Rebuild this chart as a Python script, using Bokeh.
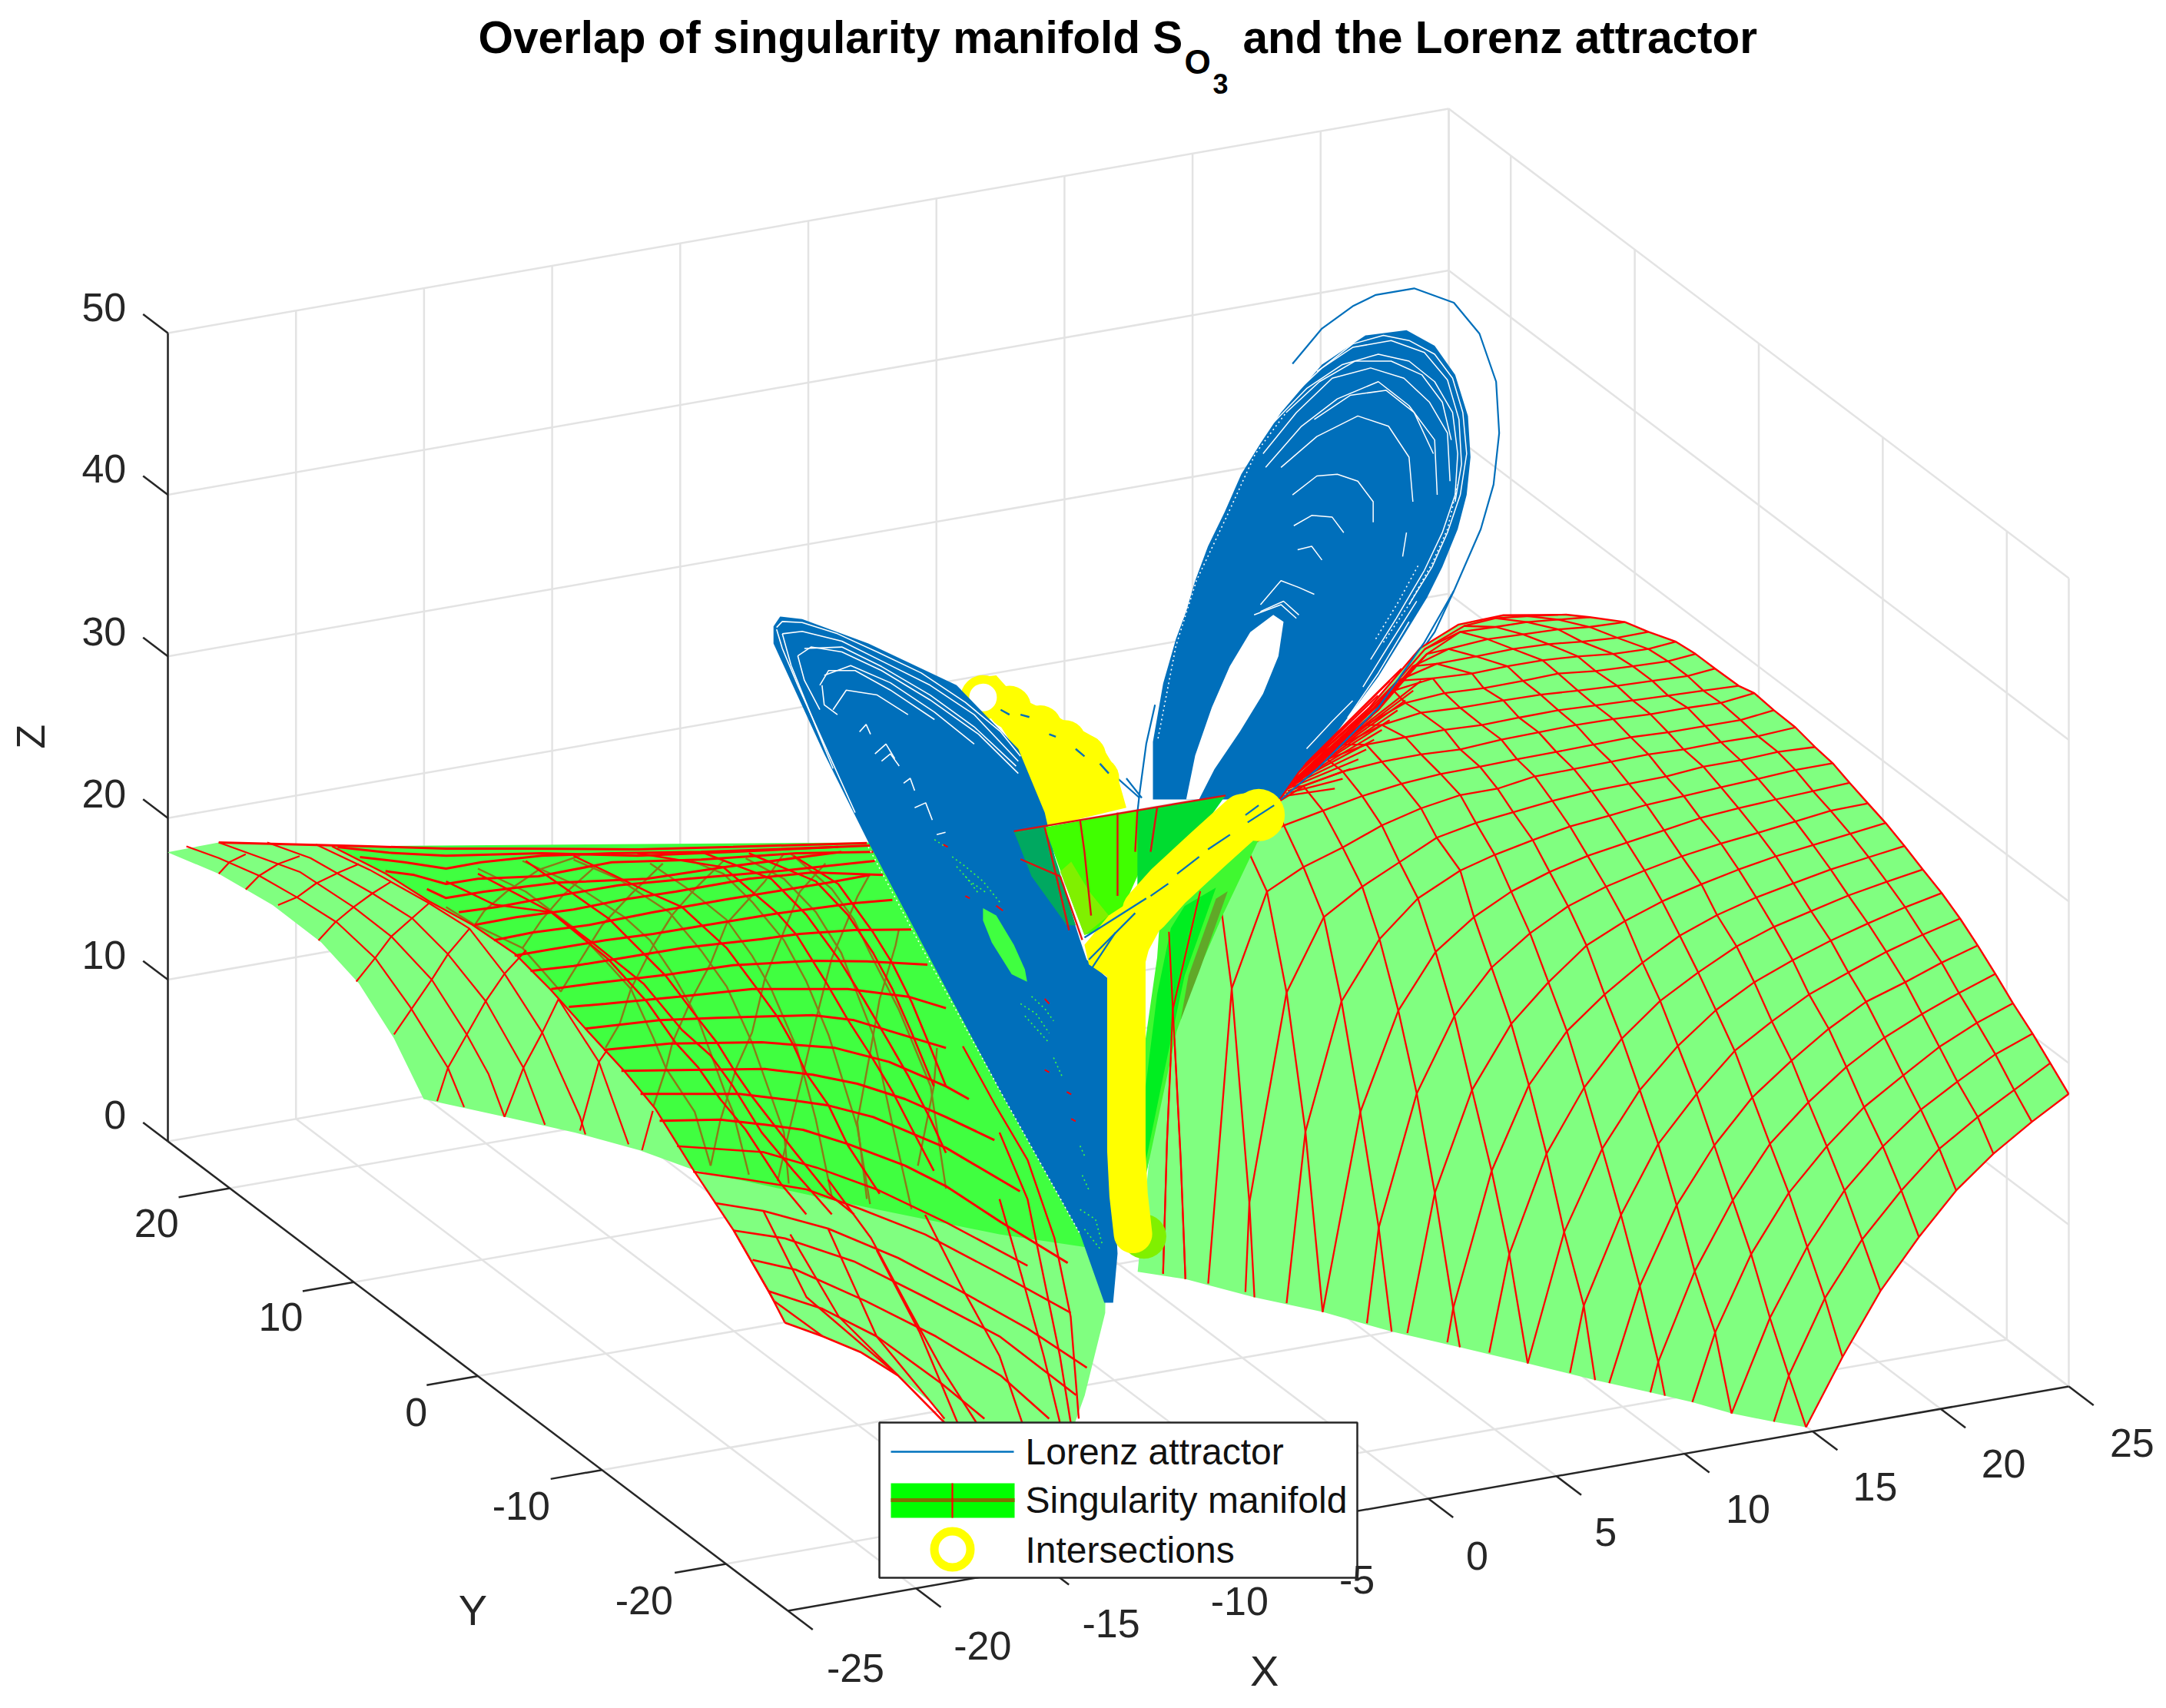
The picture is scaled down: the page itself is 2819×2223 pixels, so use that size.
from bokeh.plotting import figure
from bokeh.models import Range1d
from bokeh.core.properties import value
from bokeh.embed import file_html
from bokeh.resources import INLINE

TITLE_MAIN = "Overlap of singularity manifold S"
TITLE_SUB = "O"
TITLE_SUBSUB = "3"
TITLE_END = "and the Lorenz attractor"
X_TICKS = [-25, -20, -15, -10, -5, 0, 5, 10, 15, 20, 25]
Y_TICKS = [-20, -10, 0, 10, 20]
Z_TICKS = [0, 10, 20, 30, 40, 50]
LEGEND_LABELS = ["Lorenz attractor", "Singularity manifold", "Intersections"]
FONT = value("Liberation Sans")

# ---- values, each group in the frame of one crop of it
RIGHT_TABLE = [
 [(1552,993),(1458,1050),(1360,1115),(1265,1190),(1170,1285),(1072,1395),(975,1530),(882,1673)],
 [(1505,930),(1413,985),(1320,1040),(1222,1105),(1125,1190),(1025,1290),(930,1410),(838,1568)],
 [(1460,870),(1365,912),(1268,968),(1175,1025),(1078,1100),(980,1190),(885,1305),(790,1450)],
 [(1410,808),(1318,848),(1222,897),(1130,955),(1030,1020),(935,1100),(838,1195),(742,1320),(650,1480)],
 [(1365,748),(1272,787),(1178,830),(1082,878),(985,938),(888,1010),(790,1095),(695,1210),(598,1355),(505,1540)],
 [(1320,690),(1228,725),(1135,765),(1035,805),(940,860),(845,925),(745,1000),(648,1098),(552,1220),(458,1385)],
 [(1275,635),(1180,668),(1087,703),(990,745),(890,790),(795,845),(700,905),(603,993),(505,1095),(410,1240),(315,1425)],
 [(1228,583),(1135,612),(1040,645),(945,680),(848,720),(750,765),(652,822),(555,895),(458,985),(362,1105),(265,1275)],
 [(1180,535),(1088,560),(990,588),(895,620),(800,652),(705,692),(607,745),(510,803),(412,880),(316,980),(220,1115),(125,1320)],
 [(1133,487),(1042,510),(945,535),(850,563),(755,592),(655,628),(560,670),(465,725),(368,790),(272,865),(175,975),(80,1150),(-18,1430)],
 [(1085,440),(995,462),(900,485),(805,508),(710,535),(615,565),(515,600),(420,640),(322,690),(225,765),(130,850),(30,985),(-65,1195)],
 [(1040,400),(945,415),(855,437),(760,460),(665,482),(565,508),(470,537),(372,570),(275,610),(178,665),(80,735),(-15,834),(-111,992),(-208,1266)],
 [(993,358),(900,375),(805,392),(710,410),(612,430),(520,455),(425,480),(325,507),(228,540),(130,580),(35,632),(-63,703),(-158,823),(-255,1030)],
 [(950,318),(855,332),(760,350),(665,367),(570,385),(475,403),(380,425),(280,447),(185,475),(88,505),(0,537),(-108,594),(-206,677),(-303,804),(-395,1070)],
 [(905,285),(810,295),(715,312),(620,325),(525,345),(430,360),(335,375),(235,395),(135,418),(40,440),(-60,470),(-155,520),(-250,570),(-348,632),(-443,786),(-538,1215)],
 [(855,245),(760,263),(665,275),(570,290),(480,300),(385,315),(290,330),(190,345),(95,370),(0,383),(-100,410),(-200,445),(-300,490),(-400,530),(-493,580),(-583,778)],
 [(800,210),(715,230),(625,242),(530,255),(435,265),(340,280),(245,295),(145,310),(50,325),(-50,340),(-150,360),(-250,385),(-350,415),(-450,445),(-545,490),(-618,564),(-680,650)],
 [(750,175),(665,195),(580,205),(485,218),(390,228),(295,240),(200,255),(105,270),(0,290),(-100,300),(-200,315),(-300,335),(-400,365),(-470,400)],
 [(710,160),(620,170),(530,180),(440,190),(345,200),(250,210),(150,225),(55,240),(-40,250),(-140,265),(-240,280),(-340,310),(-430,365)],
 [(650,125),(580,140),(490,150),(400,160),(300,170),(205,178),(110,190),(0,205),(-100,215),(-200,240),(-300,280),(-420,350)],
 [(600,95),(530,110),(440,120),(345,130),(250,135),(160,150),(60,165),(-40,175),(-140,195),(-240,240),(-340,290),(-415,345)],
 [(550,70),(480,85),(390,95),(300,100),(210,108),(120,120),(30,135),(-70,145),(-170,170),(-290,260),(-405,340)],
 [(480,50),(400,62),(310,70),(225,75),(135,85),(40,100),(-60,115),(-160,150),(-270,240),(-395,335)],
 [(420,30),(330,40),(250,45),(160,55),(70,65),(-30,85),(-120,120),(-230,225),(-385,330)],
 [(330,20),(250,25),(170,30),(90,40),(0,50),(-85,95),(-210,210),(-375,325)],
 [(250,15),(170,18),(90,22),(10,38),(-90,85),(-220,205),(-380,320)],
]
# where a row runs on to the lower edge past its last crossing
RIGHT_ROW_TAILS = {1:[(800,1662)],2:[(692,1645)],3:[(592,1622)],4:[(485,1602)],5:[(380,1583)],6:[(280,1562)],7:[(172,1543)],8:[(74,1521)],9:[(-33,1500)],10:[(-135,1481)],11:[(-238,1461)],12:[(-351,1438)],13:[(-443,1420)],14:[(-548,1397)],15:[(-608,1030),(-643,1380)],16:[(-733,820),(-748,1090),(-758,1360)]}
RIGHT_COL_TAILS = {8:[(692,1645)],9:[(522,1609)],10:[(344,1577)],11:[(172,1543)],12:[(-1,1510)],13:[(-175,1478)],14:[(-351,1438)],15:[(-525,1408)],16:[(-733,819),(-713,1127),(-701,1371)]}
RIGHT_LOWER_EDGE = [(882,1673),(800,1662),(692,1645),(592,1622),(485,1602),(344,1577),(172,1543),(-1,1510),(-175,1478),(-351,1438),(-525,1408),(-701,1371),(-823,1356),(-790,1100),(-750,800),(-670,666),(-590,535),(-460,392)]
RIGHT_TOP_EDGE = [(-460,392),(-412,337),(-231,204),(-102,83),(-4,35),(110,16),(270,15),(330,20),(420,30),(480,50),(550,70),(600,95),(650,125),(710,160),(750,175),(800,210),(855,245),(905,285),(950,318),(993,358),(1040,400),(1085,440),(1133,487),(1180,535),(1228,583),(1275,635),(1320,690),(1365,748),(1410,808),(1460,870),(1505,930),(1552,993)]
RIGHT_APEX_RAYS = [
 [(-420,350),(-100,150)],[(-420,350),(-120,170)],[(-420,350),(-140,190)],[(-425,355),(-160,210)],
 [(-425,355),(-180,230)],[(-430,360),(-200,250)],[(-430,360),(-220,270)],[(-435,365),(-240,290)],
 [(-440,370),(-260,310)],[(-440,375),(-280,330)],[(-445,380),(-300,350)],[(-450,385),(-320,370)],
 [(-410,335),(-240,215)],[(-405,330),(-210,180)],[(-400,325),(-180,150)],[(-395,320),(-150,125)],
]

LEFT_OUTLINE = [(25,115),(120,90),(400,100),(800,110),(1320,90),(1768,900),(1764,1290),(1726,1501),(1708,1570),(1466,1570),(1450,1530),(1380,1450),(1310,1390),(1240,1350),(1170,1315),(1140,1235),(1110,1160),(1075,1080),(1040,1010),(1000,925),(900,875),(780,830),(650,790),(500,745),(445,590),(380,450),(310,345),(220,250),(120,170)]
LEFT_DARK = [(330,100),(1330,90),(1768,900),(1764,1130),(1568,1090),(1300,1015),(1000,925),(930,770),(870,670),(800,565),(735,465),(670,375),(590,300),(510,240),(430,170)]
LEFT_ROWS_UPPER = [
 [(-713,48),(-241,63),(0,72),(240,72),(600,75),(900,65),(1320,50)],
 [(-340,66),(-180,88),(0,100),(300,90),(600,100),(900,85),(1230,65),(1330,60)],
 [(-270,105),(-130,125),(0,150),(110,125),(300,100),(520,90),(800,85),(1230,65)],
 [(-190,160),(-100,175),(0,210),(100,190),(290,180),(520,125),(800,115),(1100,90),(1340,85)],
 [(-60,230),(0,265),(120,240),(350,205),(630,190),(870,145),(1240,85)],
 [(40,320),(160,300),(330,260),(540,215),(760,190),(1040,160),(1345,120)],
 [(90,370),(220,340),(400,310),(560,270),(720,240),(950,190),(1150,165),(1370,175)],
 [(150,430),(270,400),(450,370),(650,320),(880,270),(1200,205),(1330,175)],
 [(215,490),(330,465),(500,430),(650,405),(820,370),(1040,325),(1280,285),(1400,272)],
 [(265,550),(400,530),(500,510),(750,458),(990,425),(1110,405),(1280,390),(1460,388)],
 [(330,620),(450,600),(690,565),(900,527),(1150,510),(1320,512),(1510,525)],
 [(385,690),(500,678),(730,650),(960,620),(1260,620),(1450,650),(1568,695)],
 [(435,775),(670,742),(850,733),(1150,722),(1280,742),(1568,850)],
 [(495,858),(700,833),(990,828),(1220,850),(1390,905),(1568,1000),(1640,1050)],
 [(550,940),(1000,932),(1150,955),(1290,990),(1440,1050),(1568,1120),(1720,1210)],
 [(610,1030),(920,1030),(1090,1055),(1200,1075),(1340,1120),(1568,1240),(1800,1410)],
 [(670,1135),(860,1130),(1000,1150),(1120,1170),(1260,1225),(1440,1310),(1568,1390),(1740,1530),(1950,1690)],
]
LEFT_DESC_UPPER = [
 [(0,200),(150,290),(330,320),(510,505),(630,670),(720,830),(790,925),(860,1050),(940,1170),(1050,1380),(1130,1500)],
 [(100,170),(330,320),(470,450),(620,600),(740,780),(830,880),(900,1000),(990,1180),(1090,1330),(1210,1500)],
 [(250,120),(510,345),(610,470),(690,570),(790,735),(850,830),(910,950),(960,1040),(1090,1250),(1200,1420),(1280,1500)],
 [(400,100),(640,245),(740,300),(880,460),(970,610),(1040,730),(1090,840),(1130,950),(1200,1075),(1260,1230),(1360,1420)],
 [(600,90),(870,145),(1040,325),(1100,410),(1190,590),(1260,740),(1330,875),(1400,1020),(1450,1140),(1530,1330)],
 [(800,85),(1020,190),(1130,330),(1230,500),(1310,660),(1390,830),(1450,960),(1520,1130),(1568,1260)],
 [(1090,100),(1230,210),(1340,400),(1400,520),(1460,670),(1510,820),(1568,1000)],
 [(950,90),(1160,200),(1260,330),(1340,480),(1400,620),(1460,790),(1530,1000)],
]
LEFT_OLIVE = [
 [(500,850),(545,755),(580,620),(650,450),(710,330),(780,230),(870,120)],
 [(650,1080),(690,930),(710,830),(770,660),(830,520),(880,365),(1000,200),(1060,90)],
 [(830,1310),(860,1135),(910,930),(960,790),(1000,580),(1055,410),(1110,240),(1190,130)],
 [(1040,1370),(1075,1180),(1120,950),(1160,740),(1210,500),(1290,260),(1330,170)],
 [(1320,1440),(1290,1140),(1330,870),(1360,660),(1410,450),(1420,390)],
 [(1480,1310),(1530,1000),(1540,850)],
 [(830,1310),(780,1100),(690,930),(650,810),(580,620),(500,510),(400,380),(250,240),(100,150)],
 [(950,1345),(900,1100),(880,1040),(790,735),(710,560),(640,430),(560,340),(400,210),(240,120)],
 [(1075,1380),(1060,1180),(960,830),(880,610),(800,470),(700,320),(540,190),(400,115)],
 [(1210,1430),(1160,1130),(1100,850),(1020,620),(960,490),(880,350),(760,230),(640,130)],
 [(1330,1460),(1290,1160),(1200,800),(1130,590),(1060,430),(960,280),(870,170),(770,120)],
 [(1460,1480),(1400,1150),(1340,800),(1240,480),(1160,320),(1060,190),(940,110)],
 [(1568,1400),(1520,1000),(1420,700),(1330,480),(1280,350),(1210,230),(1080,90)],
 [(0,300),(90,370),(120,315),(190,240),(290,155),(420,100)],
 [(90,370),(240,460),(300,350),(370,250),(470,140)],
 [(240,460),(360,630),(415,520),(490,370),(580,250),(680,130)],
]
LEFT_ROWS_LOWER = [
 [(970,865),(1130,880),(1230,920),(1340,975),(1470,1060),(1620,1170)],
 [(1000,930),(1100,950),(1210,975),(1310,1025),(1430,1090),(1568,1190),(1700,1290)],
 [(1040,1010),(1130,1030),(1250,1075),(1380,1150),(1490,1230),(1620,1330),(1730,1430)],
 [(1075,1080),(1170,1100),(1300,1160),(1430,1250),(1568,1350),(1710,1500)],
 [(1110,1155),(1190,1180),(1320,1260),(1450,1350),(1570,1450),(1660,1560)],
 [(1140,1235),(1240,1280),(1340,1350),(1460,1470),(1540,1560)],
 [(1170,1315),(1240,1350),(1310,1390),(1380,1450),(1466,1570)],
]
LEFT_DESC_LOWER = [
 [(330,100),(430,170),(510,240),(590,300),(670,375),(735,465),(800,565),(870,670),(930,770),(1000,925),(1075,1080),(1140,1235),(1170,1315)],
 [(1250,950),(1330,1100),(1400,1280),(1460,1430),(1525,1570)],
 [(1430,1040),(1500,1230),(1568,1400),(1610,1570)],
 [(1568,1000),(1610,1200),(1650,1400),(1680,1570)],
 [(1568,830),(1620,1000),(1650,1200),(1680,1400),(1700,1570)],
 [(1500,610),(1560,760),(1620,900),(1670,1100),(1700,1300),(1715,1560)],
 [(1075,1080),(1150,1260),(1240,1350)],
 [(1130,1030),(1210,1250),(1380,1450)],
 [(1250,1075),(1340,1350),(1466,1560)],
 [(1180,1090),(1270,1300),(1380,1450)],
 [(1340,1130),(1420,1340),(1490,1570)],
]
LEFT_LIGHT_PAIRS = [
 [(60,100),(120,130),(195,175),(265,230),(340,295),(410,385),(475,510),(545,665),(575,765)],
 [(120,90),(190,125),(270,165),(370,255),(440,330),(515,440),(580,580),(620,680),(650,790)],
 [(210,90),(290,130),(405,220),(480,285),(545,375),(615,495),(685,665),(725,810)],
 [(300,95),(400,160),(510,245),(585,310),(650,425),(720,575),(790,790),(800,835)],
 [(750,490),(825,650),(880,860)],
 [(525,750),(545,665),(580,580),(615,495),(650,425),(690,365)],
 [(445,580),(480,510),(515,440),(545,375),(585,310)],
 [(375,445),(410,385),(440,330),(510,245)],
 [(305,340),(335,295),(370,255),(405,220),(440,190)],
 [(650,790),(685,665),(720,575),(750,490)],
 [(790,825),(825,650),(840,620)],
 [(905,875),(925,775)],
 [(230,250),(265,230),(300,195),(345,165),(380,145)],
 [(170,210),(195,175),(230,145),(270,125)],
 [(120,170),(140,140),(170,120)],
]
WING_L = [(185,180),(200,160),(250,165),(400,215),(600,300),(740,430),(800,560),(830,680),(880,820),(895,860),(945,900),(945,1100),(955,1300),(965,1460),(955,1560),(935,1560),(880,1420),(700,1130),(500,790),(400,620),(300,440),(185,215)]
WING_L_GAPS = [
 [(192,182),(205,170),(250,172),(330,195),(420,232),(520,275),(620,335),(700,395),(745,445)],
 [(192,186),(205,225),(240,300),(300,420),(370,560)],
 [(205,195),(250,190),(340,210),(440,255),(540,300),(640,360),(740,455)],
 [(205,195),(225,260),(270,360),(320,470)],
 [(240,240),(270,222),(340,232),(430,270),(540,330),(650,400),(740,480)],
 [(240,240),(255,290),(290,350)],
 [(255,225),(340,222),(430,262),(540,320),(640,385),(735,465)],
 [(290,300),(310,270),(370,270),(450,310),(550,370)],
 [(295,300),(300,340),(330,360)],
 [(300,280),(360,260),(450,295),(550,355),(640,420)],
 [(320,350),(350,310),(420,320),(490,360)],
 [(380,395),(395,380),(405,400)],
 [(415,440),(440,420),(460,450)],
 [(430,455),(450,440),(470,465)],
 [(480,500),(495,490),(505,515)],
 [(505,550),(530,540),(545,575)],
 [(555,605),(575,600)],
]
WING_L_EDGE_DOTS = [[(400,630),(500,800),(700,1130),(880,1420)]]
WING_L_HOLE = [(660,755),(690,770),(730,830),(755,880),(760,905),(725,890),(680,825),(660,780)]
WING_L_SPECKS_GREEN = [
 [(590,650),(620,670),(660,700),(700,745)],[(600,670),(630,700),(670,725)],[(620,690),(650,725)],
 [(550,615),(575,630)],[(745,950),(780,970),(810,1010)],[(755,975),(790,1010),(810,1030)],
 [(770,935),(800,960),(820,985)],[(820,1060),(840,1100)],[(880,1240),(890,1260)],[(885,1300),(900,1330)],
 [(880,1370),(915,1390),(930,1440)],[(890,1410),(925,1450)],
]
WING_L_SPECKS_RED = [[(570,625),(580,630)],[(620,730),(630,735)],[(690,750),(705,760)],[(800,1085),(810,1090)],[(850,1130),(860,1135)],[(860,1185),(870,1190)],[(800,940),(810,950)]]
WING_R = [(0,1568),(0,1400),(40,1230),(90,1100),(130,1020),(165,930),(215,830),(280,730),(345,620),(420,530),(500,440),(580,370),(660,300),(740,260),(830,215),(990,200),(1100,245),(1180,330),(1230,450),(1240,570),(1225,680),(1190,780),(1130,890),(1070,980),(980,1090),(880,1210),(760,1330),(640,1450),(500,1568)]
WING_R_HOLE = [(130,1568),(165,1440),(230,1300),(300,1180),(380,1080),(470,1030),(510,1050),(490,1150),(430,1260),(340,1370),(240,1480),(180,1568)]
WING_R_OUTER = [(545,298),(660,195),(780,130),(870,97),(1020,78),(1175,120),(1275,210),(1340,350),(1352,500),(1330,650),(1280,780),(1175,960),(1100,1080),(950,1240),(780,1400),(640,1490)]
WING_R_OUTER_TAIL = [(1175,960),(1060,1110),(880,1300),(640,1480),(500,1568)]
WING_R_GAPS = [
 [(560,380),(660,310),(780,240),(900,215),(1000,230),(1100,270),(1170,340),(1210,440),(1225,560),(1200,680),(1150,790),(1090,890),(1000,1000)],
 [(640,320),(780,250),(930,230),(1060,265),(1150,345),(1195,460),(1205,590),(1180,700)],
 [(470,470),(600,370),(740,300),(880,270),(1000,290),(1100,350),(1170,440),(1190,560),(1180,680),(1130,790),(1060,900),(950,1040),(850,1160)],
 [(520,440),(650,350),(790,290),(930,290),(1050,330),(1130,410),(1165,520)],
 [(430,560),(560,440),(700,340),(850,310),(980,340),(1080,410),(1150,500),(1160,640)],
 [(440,600),(580,480),(720,400),(880,350),(1000,420),(1100,520),(1110,680)],
 [(630,460),(770,390),(910,375),(1020,440),(1095,560)],
 [(500,600),(640,510),(800,450),(920,480),(1000,570),(1015,700)],
 [(545,680),(640,625),(720,620),(800,640),(860,700),(860,760)],
 [(550,770),(620,740),(700,745),(745,790)],
 [(565,840),(620,830),(660,870)],
 [(420,1000),(500,930),(570,950),(630,970)],
 [(420,1020),(510,990),(570,1030)],
 [(395,1030),(500,1000),(560,1040)],
 [(760,1330),(880,1200),(1000,1050)],
 [(820,1240),(920,1120),(1030,990)],
 [(600,1420),(700,1340),(780,1280)],
 [(990,790),(975,860)],
]
WING_R_EDGE_DOTS = [
 [(20,1390),(90,1120),(170,930),(290,740),(400,560),(520,440)],
 [(900,1110),(1000,1000),(1090,880),(1150,780),(1190,650)],
 [(870,1100),(960,990),(1040,880)],
]
WING_THIN = [
 [(1050,340),(1030,420),(1015,520)],
 [(965,490),(1015,530)],
 [(985,490),(1020,530)],
 [(1015,520),(1010,560)],
]
YELLOW_UPPER_OUTLINE = [(610,320),(640,285),(690,280),(730,320),(800,350),(860,380),(920,410),(960,470),(985,550),(800,590),(770,510),(740,440),(690,370),(620,340)]
YELLOW_UPPER_BUMPS = [(720,345),(790,385),(845,415),(890,445),(920,490)]
YELLOW_UPPER_RING = [(660,325)]
YELLOW_UPPER_DASHES = [[(700,350),(720,360)],[(745,360),(765,365)],[(810,400),(825,405)],[(870,430),(890,445)],[(925,460),(945,480)]]
YELLOW_WEDGE = [(890,830),(945,770),(1030,720),(1060,800),(1030,850),(950,900),(900,870)]
YELLOW_LOWER_PATH = [(1250,570),(1170,635),(1080,710),(1005,790),(985,860),(985,930),(985,1100),(985,1250),(990,1340),(1000,1420)]
YELLOW_DIAGONAL = [(1285,565),(1250,570),(1170,635),(1080,710),(1030,760)]
YELLOW_TOP_BLOB = [(1285,565)]
LIME_END = [(1025,1425)]
BLUE_ON_YELLOW = [
 [(1320,545),(1260,580)],[(1285,545),(1255,565)],[(1220,605),(1170,635)],[(1150,650),(1100,685)],
 [(1080,705),(1040,730)],[(1030,735),(890,815)],[(1005,765),(900,860)],[(960,805),(905,880)],
]
TRI_DARK = [(730,598),(800,590),(830,670),(870,790),(850,790),(770,690)]
TRI_MAIN = [(800,590),(1010,555),(1030,650),(960,790),(890,810),(840,690)]
TRI_RIGHT = [(1010,555),(1210,525),(1110,650),(1010,750)]
TRI_LIME = [(835,680),(860,660),(900,720),(945,770),(890,810)]
TRI_LINES = [
 [(730,598),(1210,525)],[(800,590),(855,800)],[(745,655),(835,690)],[(835,690),(885,820)],
 [(880,575),(890,640),(905,770)],[(965,560),(965,730)],[(1055,548),(1040,640)],[(1010,555),(1005,640)],
]
FAN_A = [(55,125),(112,46),(202,-33),(292,-115),(340,-190),(255,0),(215,90),(150,250),(100,400),(60,600),(20,800),(10,900),(10,500),(50,200)]
FAN_B = [(85,120),(120,60),(200,10),(120,250),(70,500),(20,760),(15,600),(50,300)]
FAN_C = [(200,40),(230,20),(160,230),(110,370),(130,250)]
FAN_LINES = [[(160,20),(90,340),(75,700),(65,1060)],[(80,130),(90,340),(110,750),(122,1075)]]
X_TICK_LABEL_X = [619,711,804,897,982,1069,1162,1265,1357,1450,1543]
X_TICK_LABEL_Y = [1207,1191,1175,1159,1143,1126,1109,1092,1076,1059,1044]
Y_TICK_LABEL_X = [466,377,301,203,113]
Y_TICK_LABEL_Y = [1158,1090,1022,953,885]
Z_TICK_LABEL_X = [83,75,75,75,75,75]
Z_TICK_LABEL_Y = [807,691,574,457,339,222]

def crop(points, x0, y0, sx, sy):
    return [x0 + q[0] / sx for q in points], [y0 + q[1] / sy for q in points]
def c1(pts): return crop(pts, 900, 700, 1.742, 1.568)
def c4(pts): return crop(pts, 200, 1050, 1.425, 1.96)
def c6(pts): return crop(pts, 1500, 340, 3.0, 2.24)
def cA(pts): return crop(pts, 1480, 1150, 1.96, 2.09)
def cB(pts): return crop(pts, 1900, 790, 1.96, 1.568)
def cC(pts): return crop(pts, 580, 1080, 2.41, 3.0)

p = figure(width=2803, height=2207, x_range=Range1d(0, 2803), y_range=Range1d(2207, 0),
           toolbar_location=None, output_backend="svg", min_border=0)
p.axis.visible = False
p.grid.visible = False
p.outline_line_color = None
p.background_fill_color = "white"

def proj(X, Y, Z):
    return (1025 + (X + 25) * 33.34 - (Y + 25) * 16.14,
            2096 - (X + 25) * 5.84 - (Y + 25) * 12.22 - Z * 21.04)

def seg(a, b):
    A, B = proj(*a), proj(*b)
    return [A[0], B[0]], [A[1], B[1]]

def many(lines, fn, **kw):
    xs, ys = zip(*[fn(l) for l in lines])
    p.multi_line(list(xs), list(ys), **kw)

def poly(pts, fn, color):
    x, y = fn(pts)
    p.patch(x, y, fill_color=color, line_color=None)

BLUE = "#006FBB"
RED = "#FF0000"
YEL = "#FFFF00"

# grid
G = "#e3e3e3"
gx, gy = [], []
def addg(a, b):
    x, y = seg(a, b); gx.append(x); gy.append(y)
for X in X_TICKS:
    addg((X, -25, 0), (X, 25, 0)); addg((X, 25, 0), (X, 25, 50))
for Y in Y_TICKS:
    addg((-25, Y, 0), (25, Y, 0)); addg((25, Y, 0), (25, Y, 50))
for Z in Z_TICKS:
    addg((-25, 25, Z), (25, 25, Z)); addg((25, 25, Z), (25, -25, Z))
addg((25, 25, 0), (25, 25, 50)); addg((25, -25, 0), (25, -25, 50)); addg((-25, 25, 0), (-25, 25, 50))
p.multi_line(gx, gy, line_color=G, line_width=2.5)

# axes
K = "#262626"
ax, ay = [], []
def adda(a, b):
    x, y = seg(a, b); ax.append(x); ay.append(y)
adda((-25, -25, 0), (25, -25, 0)); adda((-25, -25, 0), (-25, 25, 0)); adda((-25, 25, 0), (-25, 25, 50))
for X in X_TICKS: adda((X, -25, 0), (X, -27, 0))
for Y in Y_TICKS: adda((-25, Y, 0), (-27, Y, 0))
for Z in Z_TICKS: adda((-25, 25, Z), (-25, 27, Z))
p.multi_line(ax, ay, line_color=K, line_width=2.5)

# right wing
poly(WING_R, c6, BLUE)
poly(WING_R_HOLE, c6, "white")
many(WING_R_GAPS, c6, line_color="white", line_width=1.5)
many(WING_R_EDGE_DOTS, c6, line_color="white", line_width=1.6, line_dash="dotted")
x, y = c6(WING_R_OUTER); p.line(x, y, line_color=BLUE, line_width=2.2)
many(WING_THIN, c1, line_color=BLUE, line_width=2.2)

# upper yellow arm
poly(YELLOW_UPPER_OUTLINE, c1, YEL)
x, y = c1(YELLOW_UPPER_BUMPS)
p.scatter(x, y, size=56, marker="circle", fill_color=YEL, line_color=None)
x, y = c1(YELLOW_UPPER_RING)
p.scatter(x, y, size=47, marker="circle", fill_color="white", line_color=YEL, line_width=11)
many(YELLOW_UPPER_DASHES, c1, line_color=BLUE, line_width=2.4)

# left surface
poly(LEFT_OUTLINE, c4, "#80FF80")
poly(LEFT_DARK, c4, "#40FF40")
many(LEFT_OLIVE, cC, line_color="#8C7A18", line_width=2.4)
many(LEFT_LIGHT_PAIRS, c4, line_color=RED, line_width=2.2)
many(LEFT_DESC_LOWER, c4, line_color=RED, line_width=2.4)
many(LEFT_DESC_UPPER, cC, line_color=RED, line_width=2.6)
many(LEFT_ROWS_LOWER, c4, line_color=RED, line_width=2.6)
many(LEFT_ROWS_UPPER, cC, line_color=RED, line_width=3)

# left wing
poly(WING_L, c1, BLUE)
many(WING_L_GAPS, c1, line_color="white", line_width=1.6)
many(WING_L_EDGE_DOTS, c1, line_color="white", line_width=1.6, line_dash="dotted")
poly(WING_L_HOLE, c1, "#40FF40")
many(WING_L_SPECKS_GREEN, c1, line_color="#40FF40", line_width=1.6, line_dash="dotted")
many(WING_L_SPECKS_RED, c1, line_color=RED, line_width=2)

# right surface: each table row and each table column is one mesh line
poly(RIGHT_TOP_EDGE + RIGHT_TABLE[0][1:] + RIGHT_LOWER_EDGE[1:], cB, "#80FF80")
row_lines = [r + RIGHT_ROW_TAILS.get(i, []) for i, r in enumerate(RIGHT_TABLE)]
col_lines = []
for j in range(1, 17):
    col = [r[j] for r in reversed(RIGHT_TABLE) if len(r) > j]
    col_lines.append(col + RIGHT_COL_TAILS.get(j, []))
many(col_lines, cB, line_color=RED, line_width=2.3)
many(row_lines, cB, line_color=RED, line_width=2.3)
many(RIGHT_APEX_RAYS, cB, line_color=RED, line_width=2.3)
x, y = cB(RIGHT_TOP_EDGE); p.line(x, y, line_color=RED, line_width=2.4)
x, y = c6(WING_R_OUTER_TAIL); p.line(x, y, line_color=BLUE, line_width=2.2)

# middle fold
poly(FAN_A, cA, "#40F830")
poly(FAN_B, cA, "#00EE20")
poly(FAN_C, cA, "#60A828")
many(FAN_LINES, cA, line_color=RED, line_width=2)
poly(TRI_MAIN, c1, "#40FF00")
poly(TRI_DARK, c1, "#00A860")
poly(TRI_RIGHT, c1, "#00DC30")
poly(TRI_LIME, c1, "#80F000")
many(TRI_LINES, c1, line_color="#E01010", line_width=2.4)

# lower yellow arm
x2, y2 = c1(LIME_END)
p.scatter(x2, y2, size=58, marker="circle", fill_color="#80F000", line_color=None)
poly(YELLOW_WEDGE, c1, YEL)
x, y = c1(YELLOW_LOWER_PATH)
p.line(x, y, line_color=YEL, line_width=50, line_cap="round", line_join="round")
x, y = c1(YELLOW_DIAGONAL)
p.line(x, y, line_color=YEL, line_width=62, line_cap="round", line_join="round")
x3, y3 = c1(YELLOW_TOP_BLOB)
p.scatter(x3, y3, size=68, marker="circle", fill_color=YEL, line_color=None)
many(BLUE_ON_YELLOW, c1, line_color=BLUE, line_width=2.2)

# legend
p.quad(left=[1144], right=[1766], top=[1851], bottom=[2053], fill_color="white", line_color=K, line_width=2.5)
p.line([1159, 1319], [1889, 1889], line_color="#0072BD", line_width=2.4)
p.quad(left=[1159], right=[1320], top=[1930], bottom=[1975], fill_color="#00FF00", line_color=None)
p.line([1159, 1320], [1952, 1952], line_color="#807000", line_width=5)
p.line([1239, 1239], [1930, 1975], line_color=RED, line_width=2.2)
p.scatter([1239], [2016], size=47, marker="circle", fill_alpha=0, line_color=YEL, line_width=11)
p.text([1334] * 3, [1889, 1952, 2017], text=LEGEND_LABELS, text_font=FONT,
       text_font_size="48px", text_color="#111111", text_align="left", text_baseline="middle")

# title
p.text([622], [48], text=[TITLE_MAIN], text_font=FONT, text_font_style="bold",
       text_font_size="58.5px", text_color="black", text_align="left", text_baseline="middle")
p.text([1541], [80], text=[TITLE_SUB], text_font=FONT, text_font_style="bold",
       text_font_size="44px", text_color="black", text_align="left", text_baseline="middle")
p.text([1578], [108], text=[TITLE_SUBSUB], text_font=FONT, text_font_style="bold",
       text_font_size="36px", text_color="black", text_align="left", text_baseline="middle")
p.text([1617], [48], text=[TITLE_END], text_font=FONT, text_font_style="bold",
       text_font_size="58.5px", text_color="black", text_align="left", text_baseline="middle")

# tick labels
def ticks(vals, xs, ys):
    p.text([v * 1.798 for v in xs], [v * 1.798 for v in ys], text=[str(v) for v in vals],
           text_font=FONT, text_font_size="52px", text_color=K,
           text_align="center", text_baseline="middle")
ticks(X_TICKS, X_TICK_LABEL_X, X_TICK_LABEL_Y)
ticks(Y_TICKS, Y_TICK_LABEL_X, Y_TICK_LABEL_Y)
ticks(Z_TICKS, Z_TICK_LABEL_X, Z_TICK_LABEL_Y)
p.text([915 * 1.798, 342 * 1.798], [1209 * 1.798, 1165 * 1.798], text=["X", "Y"], text_font=FONT,
       text_font_size="56px", text_color=K, text_align="center", text_baseline="middle")
p.text([22 * 1.798], [533 * 1.798], text=["Z"], angle=[1.5708], text_font=FONT,
       text_font_size="52px", text_color=K, text_align="center", text_baseline="middle")

open("out.html", "w").write(file_html(p, INLINE))
